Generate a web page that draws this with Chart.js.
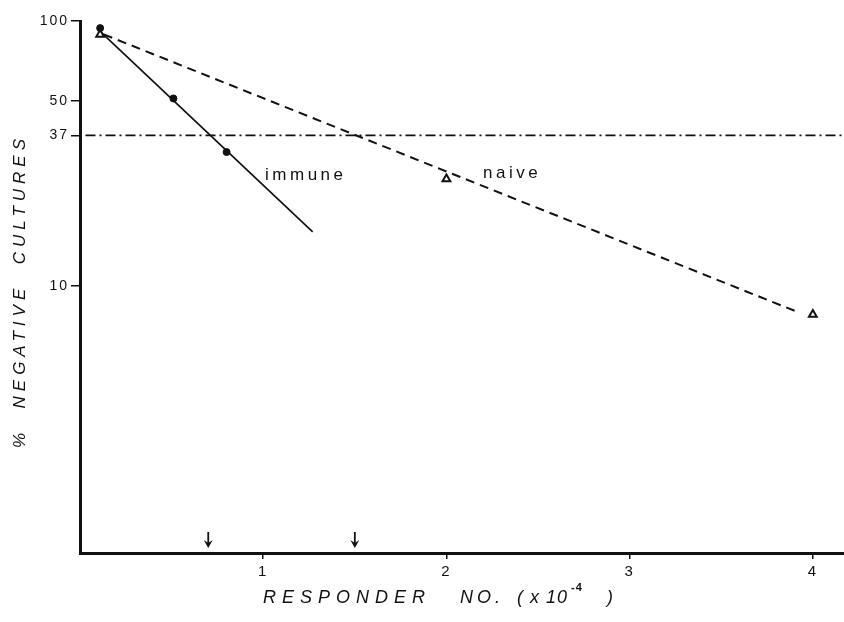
<!DOCTYPE html>
<html>
<head>
<meta charset="utf-8">
<title>Negative cultures vs responder number</title>
<script src="https://cdn.jsdelivr.net/npm/chart.js@4/dist/chart.umd.min.js"></script>
<style>
  html, body { margin: 0; padding: 0; background: #fff; }
  canvas { display: block; }
</style>
</head>
<body>
<canvas id="myChart" width="844" height="622"></canvas>
<script>
// values (x in units of 10^4 responders, y in %)
const immuneX = [0.11, 0.51, 0.80];
const immuneY = [94, 51, 32];
const naiveX = [0.11, 2.0, 4.0];
const naiveY = [89, 25.3, 7.8];

const immuneFitX = [0.12, 1.27];
const immuneFitY = [90, 16];
const naiveFitX = [0.13, 3.93];
const naiveFitY = [89, 7.9];

const refX = [0.03, 4.17];
const refY = [37, 37];

const arrowX = [0.7, 1.5];

const xTicks = [1, 2, 3, 4];
const yTicks = [10, 37, 50, 100];

const lineLabels = ['immune', 'naive'];
const lineLabelX = [1.01, 2.2];
const lineLabelY = [25.1, 25.6];

const yTitle = '%  NEGATIVE  CULTURES';
// x title pieces and where each starts
const xTitleParts = ['RESPONDER', 'NO.', '(', 'x', '10', ')'];
const xTitlePartX = [263, 460, 517, 530, 546, 607];
const xTitleSup = '-4';

const ink = '#111';
const fontFamily = "'Liberation Sans', Arial, sans-serif";

const toPoints = (xs, ys) => xs.map((x, i) => ({ x: x, y: ys[i] }));

// draws titles, line labels and the arrows at the 37% intercepts
const extras = {
    id: 'extras',
    beforeDraw(chart) {
        chart.ctx.letterSpacing = '2px';
    },
    afterDraw(chart) {
        const ctx = chart.ctx;
        const xs = chart.scales.x;
        const ys = chart.scales.y;
        const area = chart.chartArea;

        ctx.save();
        ctx.fillStyle = ink;
        ctx.strokeStyle = ink;

        // line labels
        ctx.letterSpacing = '3.5px';
        ctx.font = '17px ' + fontFamily;
        ctx.textBaseline = 'alphabetic';
        ctx.textAlign = 'left';
        lineLabels.forEach((t, i) => {
            ctx.fillText(t, xs.getPixelForValue(lineLabelX[i]), ys.getPixelForValue(lineLabelY[i]));
        });

        // arrows
        ctx.lineWidth = 1.8;
        arrowX.forEach((v) => {
            const px = xs.getPixelForValue(v);
            const tip = area.bottom - 5;
            ctx.beginPath();
            ctx.moveTo(px, area.bottom - 21);
            ctx.lineTo(px, tip - 3);
            ctx.stroke();
            ctx.beginPath();
            ctx.moveTo(px, tip);
            ctx.lineTo(px - 4.5, tip - 8);
            ctx.lineTo(px, tip - 5);
            ctx.lineTo(px + 4.5, tip - 8);
            ctx.closePath();
            ctx.fill();
        });

        // x title
        const base = 603;
        ctx.font = 'italic 18px ' + fontFamily;
        xTitleParts.forEach((t, i) => {
            ctx.letterSpacing = i === 0 ? '6px' : (i === 1 ? '4px' : '1px');
            ctx.fillText(t, xTitlePartX[i], base);
        });
        ctx.letterSpacing = '1px';
        ctx.font = 'bold 11px ' + fontFamily;
        ctx.fillText(xTitleSup, 571, base - 12);

        // y title
        ctx.letterSpacing = '5px';
        ctx.font = 'italic 17px ' + fontFamily;
        ctx.translate(25, 291);
        ctx.rotate(-Math.PI / 2);
        ctx.textAlign = 'center';
        ctx.fillText(yTitle, 0, 0);

        ctx.restore();
        ctx.letterSpacing = '0px';
    }
};

Chart.defaults.font.family = fontFamily;
Chart.defaults.color = ink;

new Chart(document.getElementById('myChart'), {
    type: 'scatter',
    data: {
        datasets: [
            {
                label: 'immune',
                data: toPoints(immuneX, immuneY),
                pointStyle: 'circle',
                pointRadius: 3.5,
                backgroundColor: ink,
                borderColor: ink,
                borderWidth: 1,
            },
            {
                label: 'naive',
                data: toPoints(naiveX, naiveY),
                pointStyle: 'triangle',
                pointRadius: 4.5,
                backgroundColor: '#fff',
                borderColor: ink,
                borderWidth: 2,
            },
            {
                label: 'immune fit',
                data: toPoints(immuneFitX, immuneFitY),
                showLine: true,
                pointRadius: 0,
                borderColor: ink,
                borderWidth: 1.7,
            },
            {
                label: 'naive fit',
                data: toPoints(naiveFitX, naiveFitY),
                showLine: true,
                pointRadius: 0,
                borderColor: ink,
                borderWidth: 2,
                borderDash: [9, 6],
            },
            {
                label: '37%',
                data: toPoints(refX, refY),
                showLine: true,
                pointRadius: 0,
                borderColor: ink,
                borderWidth: 1.6,
                borderDash: [10, 4, 2, 4],
            },
        ],
    },
    options: {
        responsive: false,
        animation: false,
        layout: {
            autoPadding: false,
            padding: { top: 21, right: 0, bottom: 0, left: 0 },
        },
        plugins: {
            legend: { display: false },
            tooltip: { enabled: false },
        },
        scales: {
            x: {
                type: 'linear',
                min: 0,
                max: 4.17,
                afterBuildTicks: (scale) => { scale.ticks = xTicks.map((v) => ({ value: v })); },
                afterFit: (scale) => {
                    scale.height = 69;
                    scale.paddingRight = 0;
                    scale.paddingLeft = 0;
                },
                grid: { drawOnChartArea: false, drawTicks: true, tickLength: 6, color: ink, lineWidth: 1.5 },
                border: { display: true, color: ink, width: 3 },
                ticks: {
                    autoSkip: false,
                    maxRotation: 0,
                    padding: 4,
                    font: { size: 15 },
                    color: ink,
                    callback: (v) => String(v),
                },
            },
            y: {
                type: 'logarithmic',
                min: 0.98,
                max: 100,
                afterBuildTicks: (scale) => { scale.ticks = yTicks.map((v) => ({ value: v })); },
                afterFit: (scale) => { scale.width = 80; },
                grid: { drawOnChartArea: false, drawTicks: true, tickLength: 9, color: ink, lineWidth: 1.5 },
                border: { display: true, color: ink, width: 3 },
                ticks: {
                    autoSkip: false,
                    padding: 2,
                    font: { size: 14 },
                    color: ink,
                    callback: (v) => String(v),
                },
            },
        },
    },
    plugins: [extras],
});
</script>
</body>
</html>
